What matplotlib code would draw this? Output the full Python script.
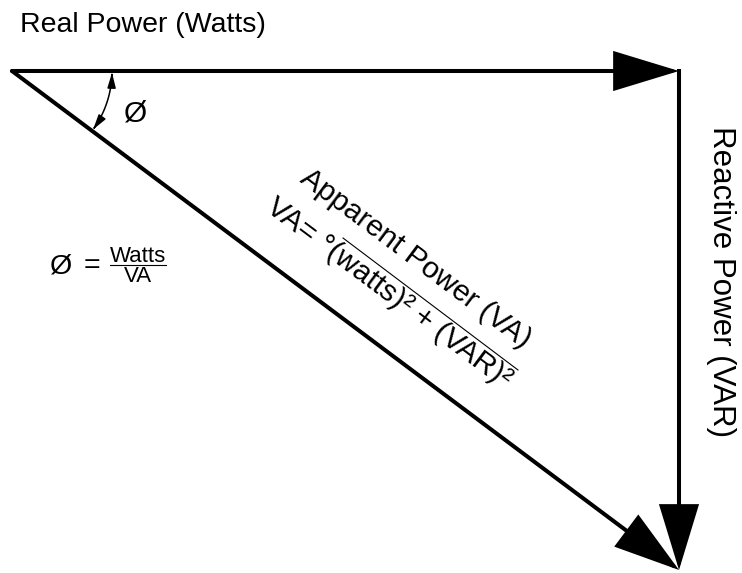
import numpy as np
import matplotlib
matplotlib.use('Agg')
import matplotlib.pyplot as plt
from matplotlib.patches import FancyArrowPatch, ArrowStyle
from matplotlib.path import Path

plt.rcParams['font.family'] = ['Liberation Sans', 'DejaVu Sans']

# triangle corners (pixel space of the 742x573 canvas)
origin = (12, 71)
corner = (679, 71)
tip = (679, 570)

labels = {
    'real': 'Real Power (Watts)',
    'reactive': 'Reactive Power (VAR)',
    'apparent': 'Apparent Power (VA)',
    'formula': 'VA= \u00b0(watts)\u00b2 + (VAR)\u00b2',
    'phi': '\u00d8',
    'num': 'Watts',
    'den': 'VA',
}

fig = plt.figure(figsize=(7.42, 5.73), dpi=100)
ax = fig.add_axes([0, 0, 1, 1])
ax.set_xlim(0, 742)
ax.set_ylim(573, 0)
ax.axis('off')

big = ArrowStyle('-|>', head_length=41, head_width=12.5)

def arrow(a, b):
    ax.add_patch(FancyArrowPatch(a, b, arrowstyle=big, mutation_scale=1,
                                 shrinkA=0, shrinkB=0, lw=2.9, color='black',
                                 joinstyle='miter'))

arrow(origin, corner)
ax.plot([corner[0], corner[0]], [corner[1] - 2, corner[1] + 50], color='black', lw=2.9,
        solid_capstyle='butt')
arrow(corner, tip)
arrow(origin, tip)

# angle arc with arrowheads on both ends
ang = np.degrees(np.arctan2(tip[1] - origin[1], tip[0] - origin[0]))
t = np.radians(np.linspace(1, ang - 1, 40))
r = 100
arc = Path(np.column_stack([origin[0] + r * np.cos(t), origin[1] + r * np.sin(t)]))
ax.add_patch(FancyArrowPatch(path=arc, arrowstyle=ArrowStyle('<|-|>', head_length=9, head_width=2.5),
                             mutation_scale=1, lw=1.1, color='black'))

fs = 20.5
ax.text(20, 32, labels['real'], fontsize=fs, ha='left', va='baseline')
ax.text(721, 282, labels['reactive'], fontsize=22.5, rotation=-90, ha='center', va='center',
        rotation_mode='anchor')
ax.text(416, 259, labels['apparent'], fontsize=21.5, rotation=-ang, ha='center', va='center',
        rotation_mode='anchor')
ax.text(389, 293, labels['formula'], fontsize=21.5, rotation=-ang, ha='center', va='center',
        rotation_mode='anchor')
ax.plot([343, 518], [238, 370], color='black', lw=0.8)

ax.text(136, 113, labels['phi'], fontsize=21.5, ha='center', va='center')
ax.text(61, 266, labels['phi'], fontsize=fs, ha='center', va='center')
ax.text(92, 266, '=', fontsize=fs, ha='center', va='center')
ax.text(138, 262, labels['num'], fontsize=16, ha='center', va='baseline')
ax.plot([110, 166], [265, 265], color='black', lw=0.8)
ax.text(138, 282, labels['den'], fontsize=16, ha='center', va='baseline')

fig.savefig('out.png', dpi=100, facecolor='white')
